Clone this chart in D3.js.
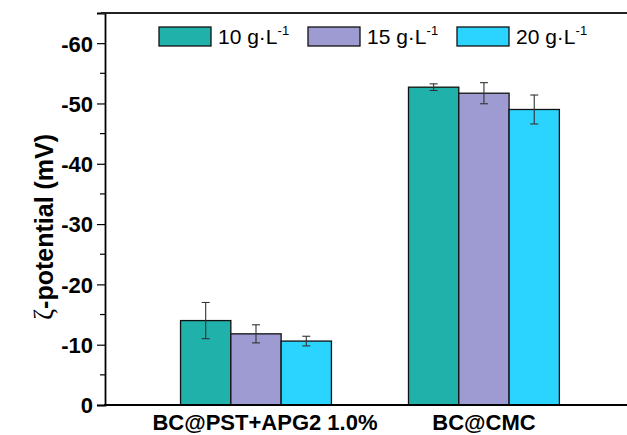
<!DOCTYPE html>
<html>
<head>
<meta charset="utf-8">
<script src="https://cdn.jsdelivr.net/npm/d3@7"></script>
<style>
  body { margin: 0; background: #fff; }
  svg { font-family: "Liberation Sans", Arial, sans-serif; }
</style>
</head>
<body>
<div id="chart"></div>
<script>
// data (zeta potential in mV)
const categories = ["BC@PST+APG2 1.0%", "BC@CMC"];
const seriesNames = ["10", "15", "20"];
const values10 = [-14.0, -52.7];
const values15 = [-11.8, -51.7];
const values20 = [-10.6, -49.0];
const errors10 = [3.0, 0.55];
const errors15 = [1.5, 1.75];
const errors20 = [0.8, 2.4];
const yTicks = [0, -10, -20, -30, -40, -50, -60];
const colors = ["#20B2AA", "#9D9BD1", "#2AD4FF"];

const series = seriesNames.map((name, i) => ({
    name: name,
    values: [values10, values15, values20][i],
    errors: [errors10, errors15, errors20][i],
    color: colors[i]
}));

const width = 627, height = 435;
const plotLeft = 105, plotRight = 627, plotTop = 13, plotBottom = 405;

const svg = d3.select("#chart").append("svg")
    .attr("width", width)
    .attr("height", height);

// scales
const y = d3.scaleLinear()
    .domain([0, -65])
    .range([plotBottom, plotTop]);

const x = d3.scaleBand()
    .domain(categories)
    .range([plotLeft, plotRight])
    .paddingInner(0)
    .paddingOuter(0.145)
    .align(0.56);

const xs = d3.scaleBand()
    .domain(seriesNames)
    .range([0, x.bandwidth()])
    .paddingOuter(0.766)
    .paddingInner(0);

// bars
const groups = svg.selectAll(".group")
    .data(series)
    .enter()
    .append("g")
    .attr("class", "group");

groups.selectAll("rect")
    .data(s => s.values.map((v, j) => ({v: v, e: s.errors[j], cat: categories[j], s: s})))
    .enter()
    .append("rect")
    .attr("x", d => x(d.cat) + xs(d.s.name))
    .attr("y", d => y(d.v))
    .attr("width", xs.bandwidth())
    .attr("height", d => y(0) - y(d.v))
    .attr("fill", d => d.s.color)
    .attr("stroke", "#111")
    .attr("stroke-width", 1.3);

// error bars
const errs = groups.selectAll(".err")
    .data(s => s.values.map((v, j) => ({v: v, e: s.errors[j], cat: categories[j], s: s})))
    .enter()
    .append("g")
    .attr("class", "err")
    .attr("stroke", "#333")
    .attr("stroke-width", 1.1);

const cx = d => x(d.cat) + xs(d.s.name) + xs.bandwidth() / 2;
errs.append("line")
    .attr("x1", cx).attr("x2", cx)
    .attr("y1", d => y(d.v - d.e))
    .attr("y2", d => y(d.v + d.e));
errs.append("line")
    .attr("x1", d => cx(d) - 4).attr("x2", d => cx(d) + 4)
    .attr("y1", d => y(d.v - d.e)).attr("y2", d => y(d.v - d.e));
errs.append("line")
    .attr("x1", d => cx(d) - 4).attr("x2", d => cx(d) + 4)
    .attr("y1", d => y(d.v + d.e)).attr("y2", d => y(d.v + d.e));

// Y axis
const yAxis = svg.append("g")
    .attr("transform", `translate(${plotLeft},0)`)
    .call(d3.axisLeft(y)
        .tickValues(yTicks)
        .tickSize(8)
        .tickPadding(4)
        .tickFormat(d => String(d)));
yAxis.select(".domain").attr("stroke", "#000").attr("stroke-width", 1.8);
yAxis.selectAll(".tick line").attr("stroke", "#000").attr("stroke-width", 1.2);
yAxis.selectAll("text")
    .attr("font-size", 22)
    .attr("font-weight", "bold")
    .attr("fill", "#000")
    .attr("dy", "0.36em")
    .attr("font-family", "Liberation Sans, Arial, sans-serif");

// minor ticks
svg.append("g")
    .selectAll("line")
    .data(d3.range(-5, -65, -10))
    .enter()
    .append("line")
    .attr("x1", plotLeft - 5).attr("x2", plotLeft)
    .attr("y1", d => y(d)).attr("y2", d => y(d))
    .attr("stroke", "#000")
    .attr("stroke-width", 1.2);

// bottom axis line and top frame line
svg.append("line")
    .attr("x1", plotLeft - 1).attr("x2", plotRight)
    .attr("y1", plotBottom).attr("y2", plotBottom)
    .attr("stroke", "#000").attr("stroke-width", 2);
svg.append("line")
    .attr("x1", plotLeft - 4).attr("x2", plotRight)
    .attr("y1", plotTop).attr("y2", plotTop)
    .attr("stroke", "#222").attr("stroke-width", 1.8);

// category labels
svg.append("g")
    .selectAll("text")
    .data(categories)
    .enter()
    .append("text")
    .attr("x", (d, i) => x(d) + x.bandwidth() / 2 + (i === 0 ? 9 : 0))
    .attr("y", 430)
    .attr("text-anchor", "middle")
    .attr("font-size", 22)
    .attr("font-weight", "bold")
    .text(d => d);

// y title
const yTitle = svg.append("text")
    .attr("transform", "translate(53,227) rotate(-90)")
    .attr("text-anchor", "middle")
    .attr("font-size", 25)
    .attr("font-weight", "bold");
yTitle.append("tspan")
    .attr("font-family", "Liberation Serif, serif")
    .attr("font-weight", "normal")
    .attr("font-size", 27)
    .text("ζ");
yTitle.append("tspan").text("-potential (mV)");

// legend
const legendX = [159, 308, 457];
const legend = svg.append("g")
    .selectAll("g")
    .data(series)
    .enter()
    .append("g")
    .attr("transform", (d, i) => `translate(${legendX[i]},27)`);

legend.append("rect")
    .attr("width", 52)
    .attr("height", 19)
    .attr("fill", d => d.color)
    .attr("stroke", "#111")
    .attr("stroke-width", 1.3);

const lt = legend.append("text")
    .attr("x", 59)
    .attr("y", 17)
    .attr("font-size", 21);
lt.append("tspan").text(d => d.name + " g·L");
lt.append("tspan")
    .attr("dy", -9)
    .attr("font-size", 13)
    .text("-1");
</script>
</body>
</html>
